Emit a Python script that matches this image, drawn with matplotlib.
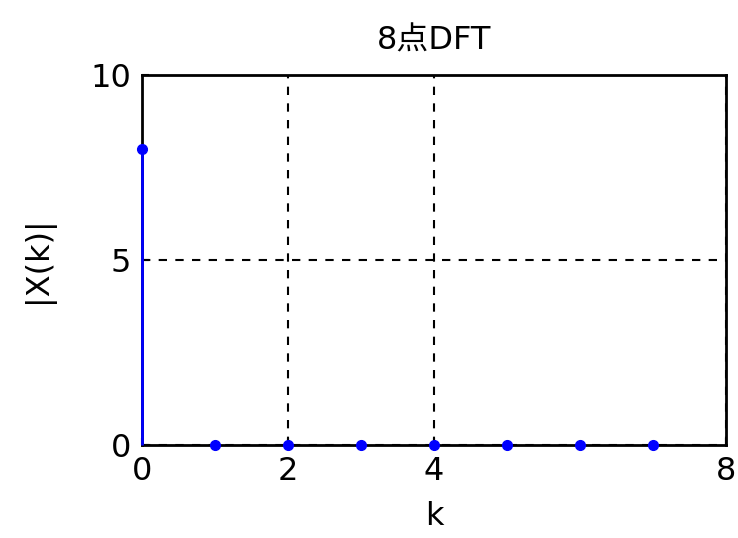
import numpy as np
import matplotlib.pyplot as plt

plt.rcParams['font.family'] = ['DejaVu Sans', 'Noto Sans CJK SC']

k = np.arange(8)
X_mag = [8, 0, 0, 0, 0, 0, 0, 0]
x_ticks = [0, 2, 4, 8]
y_ticks = [0, 5, 10]

fig = plt.figure(figsize=(7.38, 5.38), dpi=100)
ax = fig.add_axes([0.1924, 0.1729, 0.7913, 0.6877])

markerline, stemlines, baseline = ax.stem(k, X_mag, linefmt='-', markerfmt='o', basefmt=' ')
markerline.set_color('#0000ff')
markerline.set_markersize(7)
markerline.set_clip_on(False)
markerline.set_zorder(4)
stemlines.set_color('#0000ff')
stemlines.set_linewidth(2)
stemlines.set_clip_on(False)
stemlines.set_zorder(3)

ax.set_xlim(0, 8)
ax.set_ylim(0, 10)
ax.set_xticks(x_ticks)
ax.set_yticks(y_ticks)
ax.grid(True, color='black', linestyle=(0, (4, 4)), linewidth=1.5)
ax.set_axisbelow(True)
ax.tick_params(direction='in', length=5, width=1.5, labelsize=23, pad=8)
for s in ax.spines.values():
    s.set_linewidth(2)
    s.set_zorder(2.5)

ax.set_title('8点DFT', fontsize=23, pad=18, family=['DejaVu Sans', 'Noto Sans CJK SC'])
ax.set_xlabel('k', fontsize=23, labelpad=10)
ax.set_ylabel('|X(k)|', fontsize=23, labelpad=26)

fig.savefig('out.png', dpi=100)
